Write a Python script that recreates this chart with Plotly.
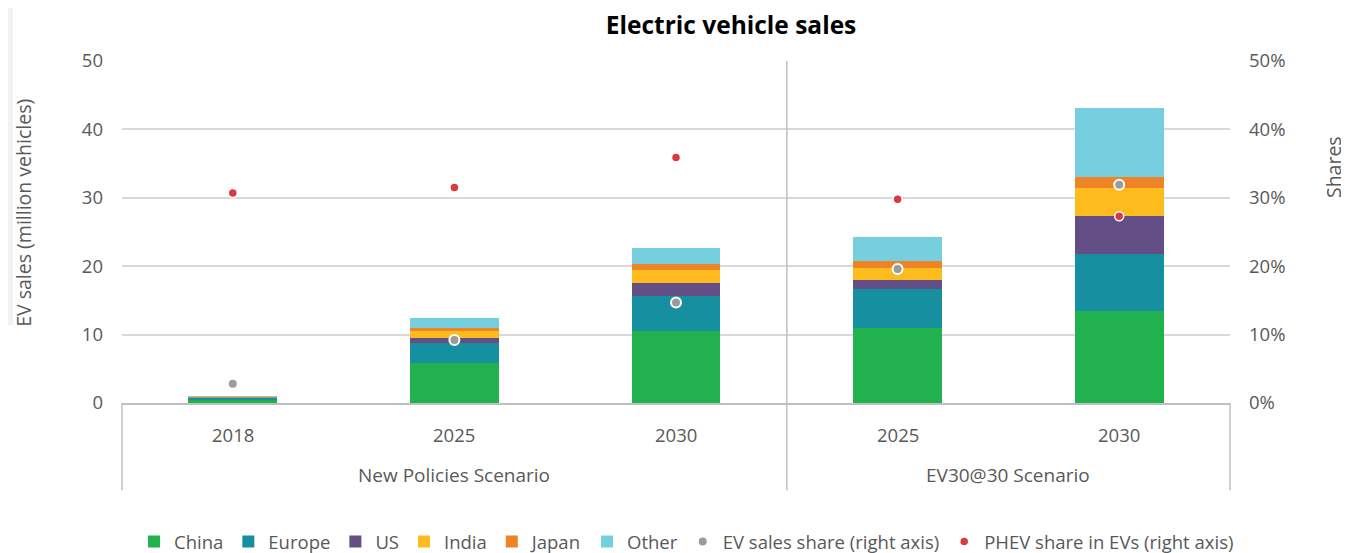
import plotly.graph_objects as go

# categories
scenarios = ["New Policies Scenario"] * 3 + ["EV30@30 Scenario"] * 2
years = ["2018", "2025", "2030", "2025", "2030"]

# EV sales by region (million vehicles)
china = [0.5, 5.8, 10.6, 10.9, 13.4]
europe = [0.25, 2.9, 5.1, 5.8, 8.4]
us = [0.1, 0.8, 1.9, 1.3, 5.5]
india = [0.0, 1.0, 1.8, 1.7, 4.2]
japan = [0.03, 0.4, 0.9, 1.1, 1.5]
other = [0.05, 1.6, 2.3, 3.5, 10.2]

# shares (right axis)
ev_share = [0.028, 0.092, 0.147, 0.196, 0.319]
phev_share = [0.307, 0.315, 0.359, 0.298, 0.273]

regions = [
    ("China", china, "#21B24F"),
    ("Europe", europe, "#168FA0"),
    ("US", us, "#644E86"),
    ("India", india, "#FDBB1E"),
    ("Japan", japan, "#EE8426"),
    ("Other", other, "#76CFDF"),
]

FONT = "Open Sans"
GREY = "#595959"
LINE = "#BFBFBF"

x = [scenarios, years]

fig = go.Figure()
for name, vals, color in regions:
    fig.add_trace(go.Bar(x=x, y=vals, name=name, marker_color=color,
                         marker_line_width=0))

fig.add_trace(go.Scatter(
    x=x, y=ev_share, name="EV sales share (right axis)", mode="markers",
    yaxis="y2",
    marker=dict(color="#9B9B9B", size=10, line=dict(color="white", width=2)),
))
fig.add_trace(go.Scatter(
    x=x, y=phev_share, name="PHEV share in EVs (right axis)", mode="markers",
    yaxis="y2",
    marker=dict(color="#D9393F", size=9, line=dict(color="white", width=1.5)),
))

# the page body adds an 8px offset, so margins are set 8px smaller on left/top
fig.update_layout(
    width=1349, height=553,
    barmode="stack", bargap=0.6,
    plot_bgcolor="white", paper_bgcolor="white",
    font=dict(family=FONT, size=17, color=GREY),
    margin=dict(l=114, r=127, t=53, b=158, autoexpand=False),
    title=dict(text="<b>Electric vehicle sales</b>", x=0.536, xanchor="center",
               y=0.968, yanchor="middle",
               font=dict(family=FONT, size=24.5, color="black")),
    xaxis=dict(type="multicategory", showline=True, linecolor=LINE,
               linewidth=1.5, showgrid=False, showdividers=False,
               showticklabels=False, automargin=False),
    yaxis=dict(range=[0, 50], dtick=10, showgrid=True, gridcolor="#D9D9D9",
               gridwidth=1.5, zeroline=False, ticklabelstandoff=18,
               automargin=False, tickfont=dict(size=18.5, color=GREY)),
    yaxis2=dict(range=[0, 0.5], dtick=0.1, tickformat=".0%", overlaying="y",
                side="right", showgrid=False, zeroline=False,
                ticklabelstandoff=18, automargin=False,
                tickfont=dict(size=18.5, color=GREY)),
    legend=dict(orientation="h", xref="container", x=0.503, xanchor="center",
                y=-0.406, yanchor="middle", font=dict(size=18.5, color=GREY),
                traceorder="normal"),
    showlegend=True,
)

# category labels: years under each bar, scenario names under each group
n = len(years)
for i, yr in enumerate(years):
    fig.add_annotation(text=yr, xref="paper", yref="paper", x=(i + 0.5) / n,
                       y=-0.092, xanchor="center", yanchor="middle",
                       showarrow=False, font=dict(size=18.5, color=GREY))
for sc in dict.fromkeys(scenarios):
    idx = [i for i, s in enumerate(scenarios) if s == sc]
    fig.add_annotation(text=sc, xref="paper", yref="paper",
                       x=(idx[0] + idx[-1] + 1) / 2 / n, y=-0.211,
                       xanchor="center", yanchor="middle", showarrow=False,
                       font=dict(size=19, color=GREY))

# group dividers: outer borders of the label area and the scenario split
bounds = [0] + [i / n for i in range(1, n) if scenarios[i] != scenarios[i - 1]] + [1]
for b in bounds:
    top = 1 if 0 < b < 1 else 0
    fig.add_shape(type="line", xref="paper", yref="paper", x0=b, x1=b,
                  y0=-0.255, y1=top, line=dict(color=LINE, width=1.5))

# axis titles
fig.add_annotation(text="EV sales (million vehicles)", xref="paper", yref="paper",
                   x=-0.0885, y=0.556, xanchor="center", yanchor="middle",
                   textangle=-90, showarrow=False,
                   font=dict(size=19.5, color=GREY))
fig.add_annotation(text="Shares", xref="paper", yref="paper",
                   x=1.093, y=0.69, xanchor="center", yanchor="middle",
                   textangle=-90, showarrow=False,
                   font=dict(size=19.5, color=GREY))

# light grey strip at the left edge of the original image
fig.add_shape(type="rect", xref="paper", yref="paper", x0=-0.103, x1=-0.0984,
              y0=0.228, y1=1.155, fillcolor="#F2F2F2", line_width=0, layer="below")

fig.write_html("out.html")
